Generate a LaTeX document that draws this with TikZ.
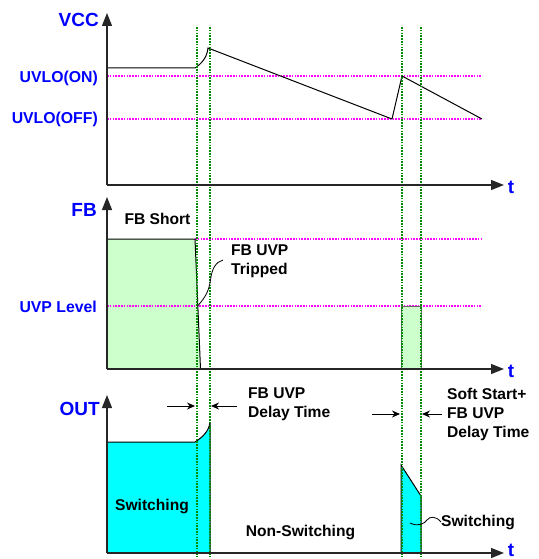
\documentclass[tikz,border=0pt]{standalone}
\usepackage{fontspec}
\setmainfont{Liberation Sans}
\usetikzlibrary{arrows.meta}
\definecolor{lbl}{RGB}{0,0,255}
\definecolor{grnline}{RGB}{0,140,0}
\definecolor{magline}{RGB}{255,0,255}
\definecolor{lgreen}{RGB}{204,255,204}
\definecolor{cyanfill}{RGB}{0,255,255}
\begin{document}
\begin{tikzpicture}[x=1pt,y=-1pt,
  axisline/.style={line width=1.4pt, draw=black!85, -{Triangle[length=13pt,width=10pt]}},
  bluelbl/.style={font=\bfseries\fontsize{15.8}{18}\selectfont, text=lbl, inner sep=0pt},
  bigblue/.style={font=\bfseries\fontsize{19}{22}\selectfont, text=lbl, inner sep=0pt},
  blacktxt/.style={font=\bfseries\fontsize{15.6}{19}\selectfont, text=black, inner sep=0pt, align=left},
  magdot/.style={draw=magline, line width=1.3pt, dash pattern=on 1.6pt off 1.2pt},
  grndot/.style={draw=grnline, line width=1.1pt, dash pattern=on 1.6pt off 1.2pt},
  wave/.style={draw=black, line width=1pt},
  smallarrow/.style={draw=black, line width=1pt, -{Stealth[length=8pt,width=7pt]}},
  leader/.style={draw=black, line width=0.8pt}
]
\useasboundingbox (0,0) rectangle (538,559);

% ---------- fills ----------
\fill[lgreen] (107,369) -- (107,239) -- (195,239) -- (200.5,369) -- cycle;
\fill[lgreen] (401,306) rectangle (421,369);
\fill[cyanfill] (107,553) -- (107,442) -- (195,442) .. controls (203,437) and (209,431) .. (210,422) -- (210,553) -- cycle;
\fill[cyanfill] (401,553) -- (401,465) -- (421,496) -- (421,553) -- cycle;

% ---------- reference levels ----------
\coordinate (on1) at (107,76);  \coordinate (on2) at (481,76);
\coordinate (off1) at (107,119); \coordinate (off2) at (481,119);
\coordinate (fbs1) at (195,239); \coordinate (fbs2) at (481,239);
\coordinate (uvp1) at (107,306); \coordinate (uvp2) at (481,306);
\draw[magdot] (on1) -- (on2);
\draw[magdot] (off1) -- (off2);
\draw[magdot] (fbs1) -- (fbs2);
\draw[magdot] (uvp1) -- (uvp2);

% ---------- waveforms ----------
\draw[wave] (107,68) -- (195,68) .. controls (201,64) and (207,58) .. (208,48) -- (392,119) -- (402,76) -- (482,119);
\draw[wave] (107,369) -- (107,239) -- (195,239) -- (200.5,369);
\draw[draw=black!60, line width=1pt] (401,369) -- (401,306) -- (421,306) -- (421,369);
\draw[wave] (107,553) -- (107,442) -- (195,442) .. controls (203,437) and (209,431) .. (210,422) -- (210,553);
\draw[wave] (401,553) -- (401,465) -- (421,496) -- (421,553);

% ---------- green markers ----------
\foreach \gx in {197,210,402,421} {
  \draw[grndot] (\gx,27) -- (\gx,557);
}

% ---------- axes ----------
\coordinate (o1) at (107,185); \coordinate (y1) at (107,13); \coordinate (x1) at (504,185);
\coordinate (o2) at (107,369); \coordinate (y2) at (107,197); \coordinate (x2) at (504,369);
\coordinate (o3) at (107,553); \coordinate (y3) at (107,395); \coordinate (x3) at (504,553);
\draw[axisline] (o1) -- (y1);
\draw[axisline] (o1) -- (x1);
\draw[axisline] (o2) -- (y2);
\draw[axisline] (o2) -- (x2);
\draw[axisline] (o3) -- (y3);
\draw[axisline] (o3) -- (x3);

% ---------- labels ----------
\node[bigblue, anchor=east] (vcc) at (99,20) {VCC};
\node[bluelbl, anchor=east] (uvloon) at (98,78) {UVLO(ON)};
\node[bluelbl, anchor=east] (uvlooff) at (98,119.5) {UVLO(OFF)};
\node[bigblue, anchor=east] (fb) at (97,210) {FB};
\node[bluelbl, anchor=east] (uvplvl) at (97,307) {UVP Level};
\node[bigblue, anchor=east] (out) at (100,409) {OUT};
\node[bigblue] (t1) at (511,187) {t};
\node[bigblue] (t2) at (511,371) {t};
\node[bigblue] (t3) at (511,550) {t};

\node[blacktxt] (fbshort) at (157.5,219) {FB Short};
\node[blacktxt, anchor=west] (tripped) at (231,261.5) {FB UVP\\Tripped};
\node[blacktxt, anchor=west] (delay1) at (248,404.5) {FB UVP\\Delay Time};
\node[blacktxt, anchor=west] (delay2) at (447,414) {Soft Start+\\FB UVP\\Delay Time};
\node[blacktxt] (sw1) at (152,506) {Switching};
\node[blacktxt] (nonsw) at (300.5,532) {Non-Switching};
\node[blacktxt, anchor=west] (sw2) at (441,522) {Switching};

% ---------- delay arrows ----------
\coordinate (a1s) at (167,406); \coordinate (a1e) at (195,406);
\coordinate (a2s) at (237,406); \coordinate (a2e) at (211,406);
\coordinate (a3s) at (372,414); \coordinate (a3e) at (400,414);
\coordinate (a4s) at (442,414); \coordinate (a4e) at (422,414);
\draw[smallarrow] (a1s) -- (a1e);
\draw[smallarrow] (a2s) -- (a2e);
\draw[smallarrow] (a3s) -- (a3e);
\draw[smallarrow] (a4s) -- (a4e);

% ---------- leaders ----------
\coordinate (trip) at (197.5,306);
\draw[leader] (trip) .. controls (206,297) and (209,290) .. (210.5,280) .. controls (212,268) and (216,262) .. (223,260);
\coordinate (swp) at (410,523);
\draw[leader] (swp) .. controls (418,527) and (424,524) .. (427,520) .. controls (430,516) and (436,516) .. (sw2.west);
\end{tikzpicture}
\end{document}
